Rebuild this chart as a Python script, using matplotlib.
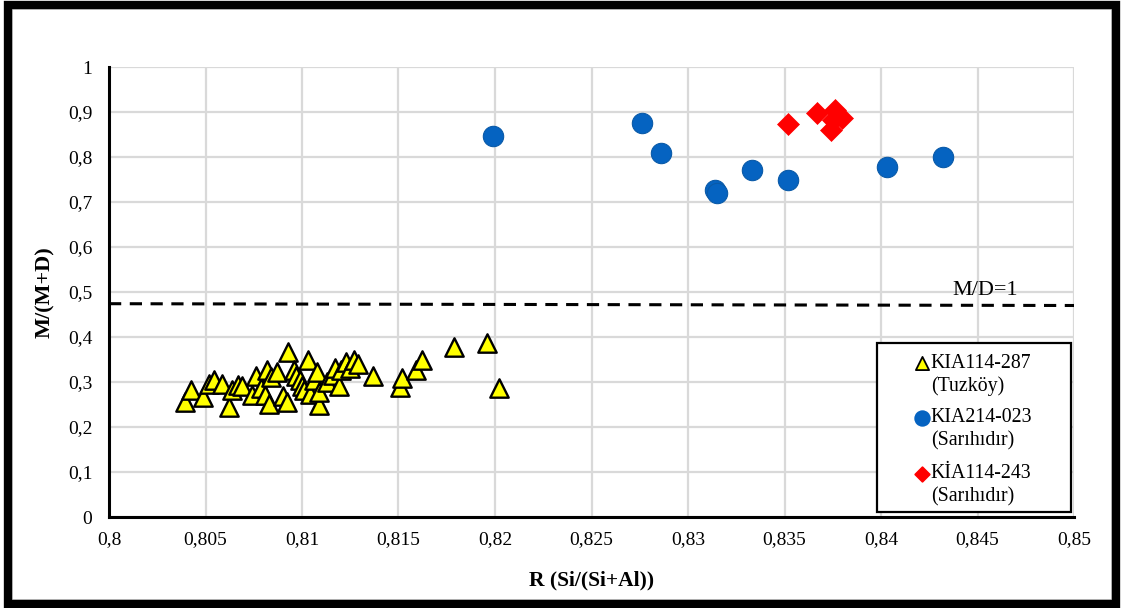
import matplotlib
matplotlib.use("Agg")
import matplotlib.pyplot as plt
from matplotlib.patches import Rectangle
from matplotlib.ticker import FuncFormatter

plt.rcParams['font.family'] = ['Liberation Serif', 'DejaVu Serif']

# KIA114-287 (Tuzköy)
tuz_r = [0.80394, 0.80425, 0.80487, 0.8052, 0.80544, 0.80585, 0.80622, 0.80637,
         0.80668, 0.8069, 0.8074, 0.8076, 0.8079, 0.8081, 0.8082, 0.8084, 0.8083,
         0.8087, 0.8090, 0.8092, 0.8093, 0.8096, 0.8097, 0.8099, 0.8100, 0.8101,
         0.8103, 0.8104, 0.8106, 0.8108, 0.8109, 0.8109, 0.8113, 0.8116, 0.8117,
         0.8119, 0.8120, 0.8123, 0.8125, 0.8127, 0.8129, 0.8137, 0.8151, 0.8152,
         0.8159, 0.8162, 0.8179, 0.8196, 0.8202]
tuz_m = [0.256, 0.282, 0.267, 0.296, 0.304, 0.296, 0.244, 0.282,
         0.293, 0.291, 0.271, 0.313, 0.287, 0.271, 0.327, 0.311, 0.251,
         0.322, 0.269, 0.256, 0.367, 0.327, 0.313, 0.304, 0.291, 0.282,
         0.349, 0.273, 0.304, 0.322, 0.249, 0.278, 0.300, 0.316, 0.331,
         0.291, 0.327, 0.344, 0.331, 0.349, 0.340, 0.313, 0.289, 0.309,
         0.327, 0.349, 0.378, 0.387, 0.287]

# KIA214-023 (Sarıhıdır)
sar1_r = [0.8199, 0.8276, 0.8286, 0.8314, 0.8315, 0.8333, 0.8352, 0.8403, 0.8432]
sar1_m = [0.847, 0.876, 0.809, 0.727, 0.721, 0.771, 0.749, 0.778, 0.800]

# KİA114-243 (Sarıhıdır)
sar2_r = [0.8352, 0.8367, 0.8376, 0.8374, 0.8380, 0.8375]
sar2_m = [0.873, 0.898, 0.904, 0.860, 0.887, 0.882]

# M/D = 1 boundary
md_r = [0.80, 0.85]
md_m = [0.474, 0.470]

x_ticks = [0.80, 0.805, 0.81, 0.815, 0.82, 0.825, 0.83, 0.835, 0.84, 0.845, 0.85]
y_ticks = [0, 0.1, 0.2, 0.3, 0.4, 0.5, 0.6, 0.7, 0.8, 0.9, 1.0]

fig = plt.figure(figsize=(11.23, 6.08), dpi=100)
ax = fig.add_axes([109 / 1123, 1 - 517 / 608, 965 / 1123, 450 / 608])

ax.set_xlim(0.80, 0.85)
ax.set_ylim(0, 1)
ax.set_xticks(x_ticks)
ax.set_yticks(y_ticks)


def comma_fmt(v, pos):
    s = f"{v:.3f}".rstrip('0').rstrip('.')
    return s.replace('.', ',')


ax.xaxis.set_major_formatter(FuncFormatter(comma_fmt))
ax.yaxis.set_major_formatter(FuncFormatter(comma_fmt))
ax.tick_params(length=0, labelsize=14)
ax.tick_params(axis='x', pad=10)
ax.tick_params(axis='y', pad=12)

ax.grid(True, color='#d9d9d9', linewidth=1.6)
ax.set_axisbelow(True)
for side in ('top', 'right'):
    ax.spines[side].set_visible(False)
for side in ('left', 'bottom'):
    ax.spines[side].set_linewidth(2.2)
    ax.spines[side].set_color('black')

ax.plot(md_r, md_m, color='black', linestyle=(0, (4, 2.8)), linewidth=2.2, zorder=2)
ax.text(0.8454, 0.504, 'M/D=1', fontsize=16, ha='center', va='center')

ax.scatter(tuz_r, tuz_m, marker='^', s=175, c='#ffff00', edgecolors='black',
           linewidths=1.7, zorder=3)
ax.scatter(sar1_r, sar1_m, marker='o', s=215, c='#0563c1', edgecolors='#0a5aa8',
           linewidths=0.8, zorder=3)
ax.scatter(sar2_r, sar2_m, marker='D', s=125, c='#ff0000', edgecolors='#ff0000',
           linewidths=0.5, zorder=4)

ax.set_xlabel('R (Si/(Si+Al))', fontsize=15.5, fontweight='bold', labelpad=16)
ax.set_ylabel('M/(M+D)', fontsize=16, fontweight='bold', labelpad=9)

# legend box
def ax_x(px):
    return (px - 109) / 965


def ax_y(py):
    return (517 - py) / 450


ax.add_patch(Rectangle((ax_x(877), ax_y(512)), ax_x(1071) - ax_x(877),
                       ax_y(343) - ax_y(512), transform=ax.transAxes,
                       facecolor='white', edgecolor='black', linewidth=1.6,
                       zorder=5, clip_on=False))
entries = [
    ('^', '#ffff00', 'black', 90, 'KIA114-287', '(Tuzköy)', 363),
    ('o', '#0563c1', '#0563c1', 110, 'KIA214-023', '(Sarıhıdır)', 418),
    ('D', '#ff0000', '#ff0000', 55, 'KİA114-243', '(Sarıhıdır)', 474),
]
for mk, fc, ec, sz, name, place, py in entries:
    ax.scatter([ax_x(922)], [ax_y(py)], marker=mk, s=sz, c=fc, edgecolors=ec,
               linewidths=1.3, transform=ax.transAxes, zorder=6, clip_on=False)
    ax.text(ax_x(930), ax_y(py), name, transform=ax.transAxes, fontsize=14.3,
            ha='left', va='center', zorder=6)
    ax.text(ax_x(931), ax_y(py + 23), place, transform=ax.transAxes, fontsize=14.3,
            ha='left', va='center', zorder=6)

# outer frame around the figure
fig.patches.append(Rectangle((12 / 1123, 8 / 608), 1100 / 1123, 591 / 608,
                             transform=fig.transFigure, fill=False,
                             edgecolor='#c8c8c8', linewidth=1.2))
fig.patches.append(Rectangle((8 / 1123, 4 / 608), 1108 / 1123, 599 / 608,
                             transform=fig.transFigure, fill=False,
                             edgecolor='black', linewidth=6))

fig.savefig('out.png', dpi=100)
